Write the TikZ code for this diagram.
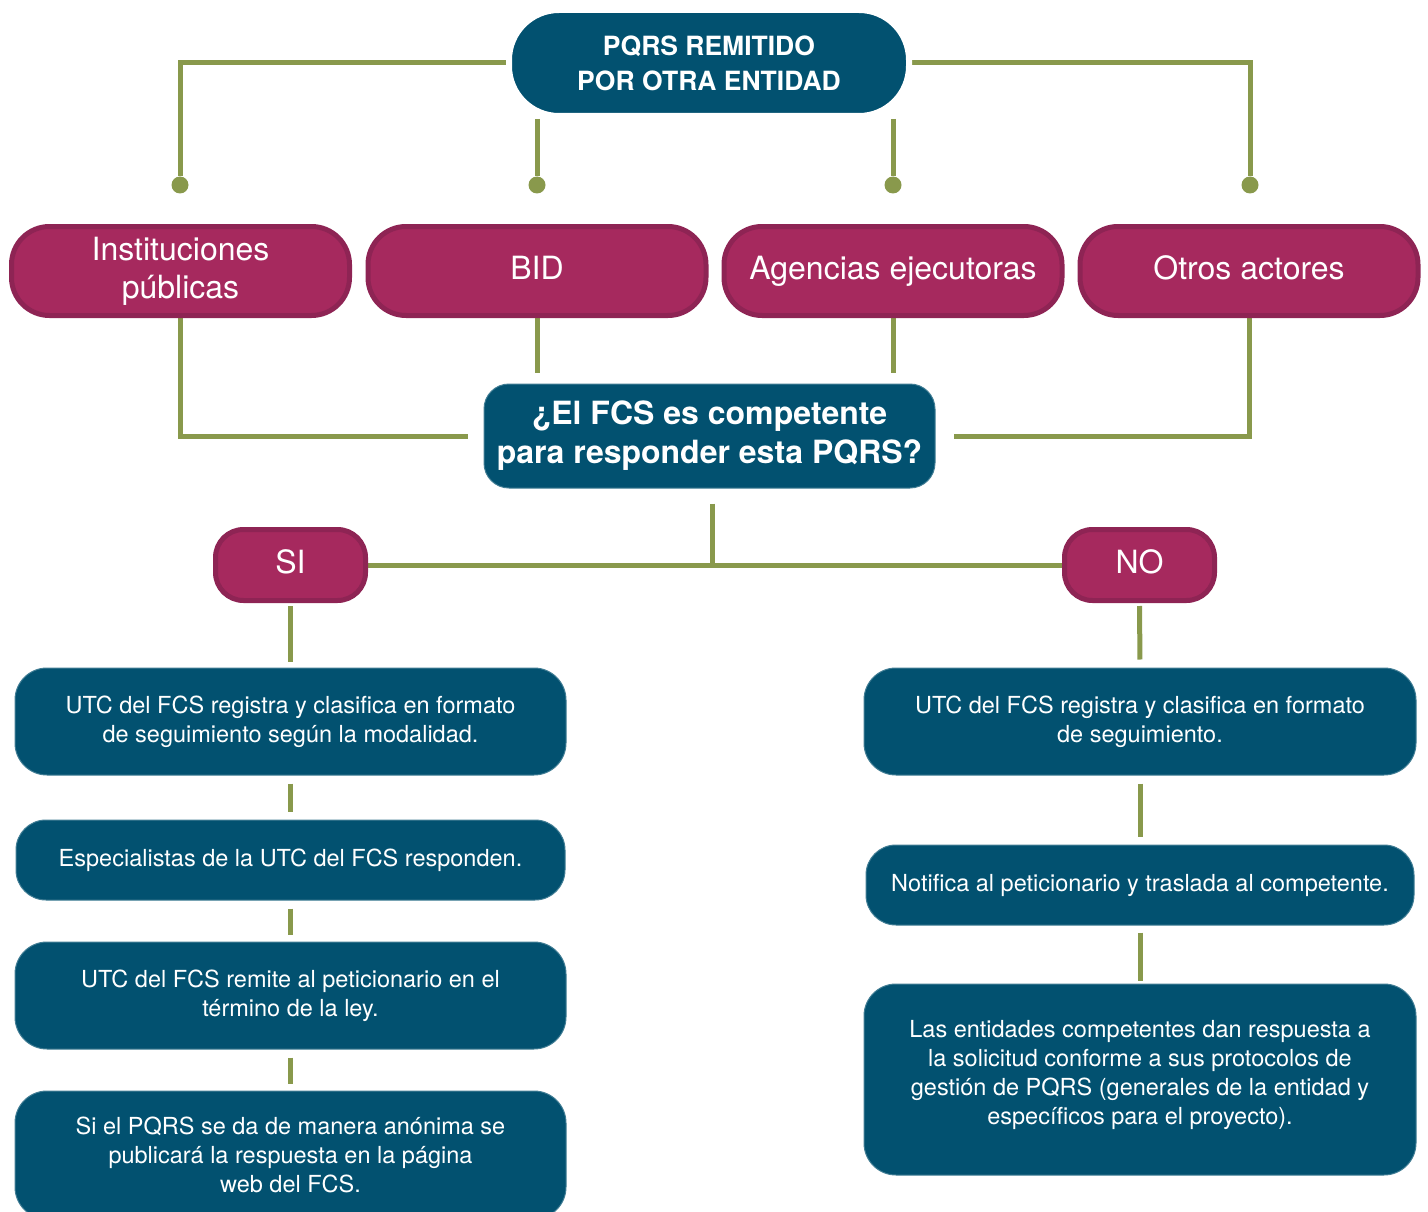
\documentclass[tikz,border=0pt]{standalone}
\usepackage{fontspec}
\setmainfont{TeX Gyre Heros}
\usetikzlibrary{backgrounds}
\definecolor{teal1}{RGB}{2,81,112}
\definecolor{mag}{RGB}{166,41,94}
\definecolor{magb}{RGB}{142,36,84}
\definecolor{olive}{RGB}{137,153,76}
\begin{document}
\begin{tikzpicture}[x=1pt,y=-1pt,
  tbox/.style={fill=teal1, draw=teal1!75!white, line width=1pt, rounded corners=32pt, text=white, align=center, font=\fontsize{23.5}{29}\selectfont, inner sep=0pt},
  mbox/.style={fill=mag, draw=magb, line width=5pt, rounded corners=38pt, text=white, align=center, font=\fontsize{32}{38}\selectfont, inner sep=0pt, minimum width=338pt, minimum height=89pt},
  oneline/.style={text height=22pt, text depth=6pt},
  link/.style={draw=olive, line width=5pt},
  dotnode/.style={circle, fill=olive, minimum size=17pt, inner sep=0pt}]
\useasboundingbox (0,0) rectangle (1428,1212);
% top node
\node[fill=teal1, draw=white, line width=6pt, rounded corners=50pt, minimum width=400pt, minimum height=106pt, inner sep=0pt, text=white, align=center, font=\fontsize{26.5}{35}\selectfont\bfseries] (top) at (709,63) {PQRS REMITIDO\\POR OTRA ENTIDAD};
% magenta boxes
\node[mbox] (b1) at (180.5,271) {Instituciones\\públicas};
\node[mbox, oneline] (b2) at (537,271) {BID};
\node[mbox, oneline] (b3) at (893,271) {Agencias ejecutoras};
\node[mbox, oneline] (b4) at (1249,271) {Otros actores};
% dots
\node[dotnode] (d1) at (180,185) {};
\node[dotnode] (d2) at (537,185) {};
\node[dotnode] (d3) at (893,185) {};
\node[dotnode] (d4) at (1250,185) {};
% question
\node[tbox, rounded corners=25pt, minimum width=451pt, minimum height=104pt, font=\fontsize{32}{39}\selectfont\bfseries] (q) at (709.5,436) {¿El FCS es competente\\para responder esta PQRS?};
% SI / NO
\node[mbox, oneline, minimum width=150pt, minimum height=71pt, rounded corners=28pt] (si) at (290.5,565) {SI};
\node[mbox, oneline, minimum width=150pt, minimum height=71pt, rounded corners=28pt] (no) at (1139.5,565) {NO};
% left column
\node[tbox, minimum width=551pt, minimum height=107pt] (l1) at (290.5,721.5) {UTC del FCS registra y clasifica en formato\\de seguimiento según la modalidad.};
\node[tbox, minimum width=549pt, minimum height=80pt, rounded corners=30pt] (l2) at (290.5,860) {Especialistas de la UTC del FCS responden.};
\node[tbox, minimum width=551pt, minimum height=107pt] (l3) at (290.5,995.5) {UTC del FCS remite al peticionario en el\\término de la ley.};
\node[tbox, minimum width=551pt, minimum height=128pt] (l4) at (290.5,1155) {Si el PQRS se da de manera anónima se\\publicará la respuesta en la página\\web del FCS.};
% right column
\node[tbox, minimum width=552pt, minimum height=107pt] (r1) at (1140,721.5) {UTC del FCS registra y clasifica en formato\\de seguimiento.};
\node[tbox, minimum width=548pt, minimum height=80pt, rounded corners=30pt] (r2) at (1140,885) {Notifica al peticionario y traslada al competente.};
\node[tbox, minimum width=552pt, minimum height=191pt] (r3) at (1140,1079.5) {Las entidades competentes dan respuesta a\\la solicitud conforme a sus protocolos de\\gestión de PQRS (generales de la entidad y\\específicos para el proyecto).\\[-14pt]};
\begin{scope}[on background layer]
\draw[link] (top.west) -| (d1);
\draw[link] (top.east) -| (d4);
\draw[link] (top.south -| d2) -- (d2);
\draw[link] (top.south -| d3) -- (d3);
\draw[link, shorten >=16pt] (b1.south) |- (q.west);
\draw[link, shorten >=11pt] (b2.south) -- (b2.south |- q.north);
\draw[link, shorten >=11pt] (b3.south) -- (b3.south |- q.north);
\draw[link, shorten >=18pt] (b4.south) |- (q.east);
\draw[link] (si.east) -- (no.west);
\draw[link, shorten <=15pt] ([xshift=2.5pt]q.south) -- ([xshift=2.5pt]q.south |- si.east);
\draw[link, shorten <=3pt, shorten >=6pt] (si.south) -- (l1.north);
\draw[link, shorten <=8pt, shorten >=8pt] (l1.south) -- (l2.north);
\draw[link, shorten <=8pt, shorten >=7pt] (l2.south) -- (l3.north);
\draw[link, shorten <=8pt, shorten >=7pt] (l3.south) -- (l4.north);
\draw[link, shorten <=3pt, shorten >=8pt] (no.south) -- (r1.north);
\draw[link, shorten <=8pt, shorten >=8pt] (r1.south) -- (r2.north);
\draw[link, shorten <=7pt, shorten >=3pt] (r2.south) -- (r3.north);
\end{scope}
\end{tikzpicture}
\end{document}
